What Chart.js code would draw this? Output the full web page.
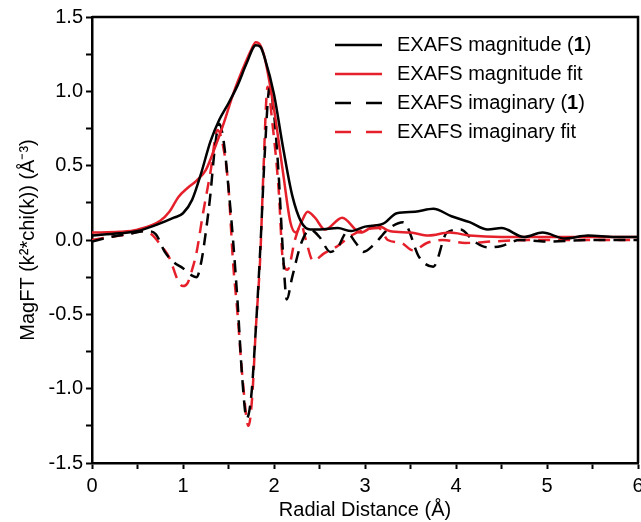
<!DOCTYPE html>
<html>
<head>
<meta charset="utf-8">
<script src="https://cdn.jsdelivr.net/npm/chart.js@4.4.0/dist/chart.umd.min.js"></script>
<style>
body { margin: 0; background: #fff; }
#wrap { width: 641px; height: 522px; }
</style>
</head>
<body>
<div id="wrap"><canvas id="exafs"></canvas></div>
<script>
// magnitude (1)
var magX = [0, 0.3, 0.5, 0.7, 0.9, 1.0, 1.1, 1.2, 1.3, 1.4, 1.5, 1.6, 1.7, 1.8, 1.85, 1.9, 2.0, 2.1, 2.2, 2.3, 2.4, 2.5, 2.7, 2.85, 3.0, 3.2, 3.35, 3.55, 3.75, 3.95, 4.15, 4.35, 4.5, 4.75, 4.95, 5.2, 5.45, 5.75, 6.0];
var magY = [0.03, 0.045, 0.06, 0.10, 0.15, 0.18, 0.27, 0.45, 0.66, 0.81, 0.92, 1.04, 1.19, 1.31, 1.30, 1.22, 0.98, 0.62, 0.30, 0.12, 0.07, 0.07, 0.08, 0.06, 0.09, 0.11, 0.18, 0.19, 0.21, 0.16, 0.12, 0.07, 0.08, 0.02, 0.05, 0.01, 0.03, 0.02, 0.02];
// magnitude fit
var magFitX = [0, 0.3, 0.5, 0.75, 0.85, 0.95, 1.05, 1.15, 1.25, 1.35, 1.45, 1.55, 1.65, 1.75, 1.8, 1.85, 1.9, 2.0, 2.1, 2.18, 2.24, 2.3, 2.37, 2.45, 2.56, 2.75, 2.95, 3.13, 3.27, 3.5, 3.7, 3.93, 4.15, 4.5, 5.0, 5.5, 6.0];
var magFitY = [0.05, 0.055, 0.07, 0.13, 0.19, 0.29, 0.35, 0.40, 0.47, 0.62, 0.79, 0.98, 1.14, 1.28, 1.33, 1.31, 1.22, 0.88, 0.45, 0.12, 0.05, 0.12, 0.19, 0.15, 0.07, 0.15, 0.05, 0.10, 0.06, 0.05, 0.03, 0.05, 0.03, 0.02, 0.02, 0.02, 0.02];
// imaginary (1)
var imX = [0, 0.2, 0.4, 0.6, 0.7, 0.8, 0.9, 1.0, 1.1, 1.15, 1.2, 1.25, 1.3, 1.35, 1.4, 1.45, 1.5, 1.55, 1.6, 1.65, 1.7, 1.75, 1.8, 1.85, 1.9, 1.95, 2.0, 2.05, 2.1, 2.14, 2.2, 2.3, 2.4, 2.5, 2.62, 2.7, 2.8, 2.9, 2.98, 3.1, 3.25, 3.42, 3.6, 3.75, 3.9, 4.05, 4.2, 4.35, 4.5, 4.7, 5.0, 5.5, 6.0];
var imY = [-0.01, 0.02, 0.04, 0.06, 0.04, -0.08, -0.15, -0.19, -0.24, -0.25, -0.15, 0.05, 0.30, 0.62, 0.78, 0.65, 0.35, 0.0, -0.42, -0.92, -1.2, -1.05, -0.6, -0.05, 0.6, 1.02, 0.85, 0.45, -0.1, -0.4, -0.25, -0.02, 0.07, 0.02, -0.08, -0.05, 0.05, -0.02, -0.08, -0.03, 0.07, 0.12, -0.12, -0.18, 0.05, 0.07, -0.01, -0.05, -0.04, 0.0, -0.01, 0.0, 0.0];
// imaginary fit
var imFitX = [0, 0.2, 0.4, 0.55, 0.65, 0.75, 0.85, 0.95, 1.0, 1.05, 1.1, 1.15, 1.22, 1.3, 1.38, 1.45, 1.5, 1.55, 1.6, 1.65, 1.72, 1.76, 1.8, 1.85, 1.88, 1.93, 1.98, 2.05, 2.1, 2.15, 2.23, 2.3, 2.35, 2.43, 2.55, 2.7, 2.85, 3.0, 3.15, 3.25, 3.4, 3.53, 3.68, 3.85, 4.1, 4.4, 4.8, 5.3, 6.0];
var imFitY = [0.0, 0.02, 0.04, 0.06, 0.04, -0.03, -0.12, -0.28, -0.31, -0.29, -0.2, -0.08, 0.18, 0.45, 0.74, 0.6, 0.35, -0.15, -0.5, -0.9, -1.25, -1.06, -0.6, -0.1, 0.4, 1.03, 0.8, 0.35, -0.15, -0.2, 0.0, 0.1, 0.0, -0.14, -0.09, -0.04, 0.03, 0.07, 0.08, 0.0, -0.02, -0.07, -0.02, 0.0, -0.02, -0.01, 0.0, 0.0, 0.0];

var legendLabels = [["EXAFS magnitude (", "1", ")"], ["EXAFS magnitude fit"], ["EXAFS imaginary (", "1", ")"], ["EXAFS imaginary fit"]];

var RED = '#e5202b';
var FONT = '"Liberation Sans", Arial, sans-serif';

function pts(xs, ys) {
	var out = [];
	for (var i = 0; i < xs.length; i++) {
		out.push({x: xs[i], y: ys[i]});
	}
	return out;
}

function ds(label, xs, ys, color, dash) {
	return {
		label: label,
		data: pts(xs, ys),
		borderColor: color,
		backgroundColor: color,
		borderWidth: 2.5,
		borderDash: dash,
		pointRadius: 0,
		cubicInterpolationMode: 'monotone',
		fill: false
	};
}

function noPad(s) {
	s.paddingLeft = 0;
	s.paddingRight = 0;
	s.paddingTop = 0;
	s.paddingBottom = 0;
}

// frame on top/right and legend in the plot
var framePlugin = {
	id: 'frame',
	afterDraw: function(chart) {
		var ctx = chart.ctx;
		var a = chart.chartArea;
		ctx.save();
		ctx.strokeStyle = '#000';
		ctx.lineWidth = 2.5;
		ctx.beginPath();
		ctx.moveTo(a.left, a.top);
		ctx.lineTo(a.right, a.top);
		ctx.lineTo(a.right, a.bottom);
		ctx.stroke();

		var sx = 335, ex = 382, tx = 397, ty = 45, step = 29;
		chart.data.datasets.forEach(function(d, i) {
			var y = ty + i * step;
			ctx.strokeStyle = d.borderColor;
			ctx.lineWidth = 2.5;
			ctx.setLineDash(d.borderDash.length ? [16, 15] : []);
			ctx.beginPath();
			ctx.moveTo(sx, y);
			ctx.lineTo(ex, y);
			ctx.stroke();
			ctx.setLineDash([]);
			ctx.fillStyle = '#000';
			ctx.textBaseline = 'middle';
			var x = tx;
			legendLabels[i].forEach(function(part, j) {
				ctx.font = (j == 1 ? 'bold ' : '') + '20px ' + FONT;
				ctx.fillText(part, x, y);
				x += ctx.measureText(part).width;
			});
		});
		ctx.restore();
	}
};

var ctx = document.getElementById('exafs').getContext('2d');
var chart = new Chart(ctx, {
	type: 'line',
	data: {
		datasets: [
			ds('EXAFS magnitude (1)', magX, magY, '#000', []),
			ds('EXAFS magnitude fit', magFitX, magFitY, RED, []),
			ds('EXAFS imaginary (1)', imX, imY, '#000', [12, 8]),
			ds('EXAFS imaginary fit', imFitX, imFitY, RED, [12, 8])
		]
	},
	options: {
		responsive: true,
		maintainAspectRatio: false,
		animation: false,
		layout: { padding: { top: 17, right: 3, left: 0, bottom: 0 }, autoPadding: false },
		plugins: {
			legend: { display: false },
			tooltip: { enabled: false }
		},
		scales: {
			x: {
				type: 'linear',
				min: 0,
				max: 6,
				afterFit: function(s) { s.height = 59; noPad(s); },
				border: { display: true, color: '#000', width: 2.5 },
				grid: { drawOnChartArea: false, color: '#000', tickLength: 6, tickWidth: 2 },
				ticks: {
					stepSize: 0.5,
					autoSkip: false,
					maxRotation: 0,
					padding: 5,
					color: '#000',
					font: { family: FONT, size: 20 },
					callback: function(v) { return v % 1 === 0 ? String(v) : ''; }
				},
				title: {
					display: true,
					text: 'Radial Distance (Å)',
					color: '#000',
					font: { family: FONT, size: 20 },
					padding: { top: 0, bottom: 0 }
				}
			},
			y: {
				min: -1.5,
				max: 1.5,
				afterFit: function(s) { s.width = 92; noPad(s); },
				border: { display: true, color: '#000', width: 2.5 },
				grid: { drawOnChartArea: false, color: '#000', tickLength: 6, tickWidth: 2 },
				ticks: {
					stepSize: 0.25,
					autoSkip: false,
					padding: 3,
					color: '#000',
					font: { family: FONT, size: 20 },
					callback: function(v) {
						if (Math.abs(v * 2 - Math.round(v * 2)) > 1e-6) return '';
						return v.toFixed(1);
					}
				},
				title: {
					display: true,
					text: 'MagFT (k²*chi(k)) (Å⁻³)',
					color: '#000',
					font: { family: FONT, size: 20 },
					padding: { top: 16, bottom: 0 }
				}
			}
		}
	},
	plugins: [framePlugin]
});
</script>
</body>
</html>
